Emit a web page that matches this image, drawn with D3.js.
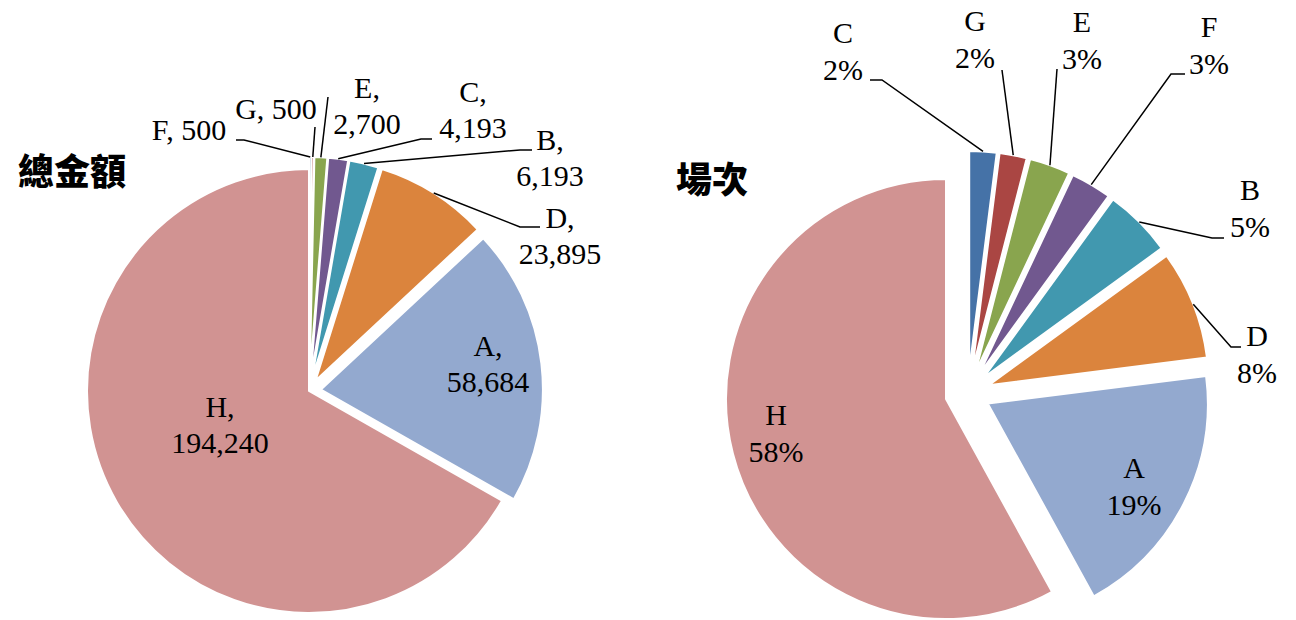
<!DOCTYPE html>
<html>
<head>
<meta charset="utf-8">
<script src="https://cdn.jsdelivr.net/npm/d3@7"></script>
<style>
  html, body { margin: 0; padding: 0; background: #fff; }
  svg { display: block; }
  .lbl { font-family: "Times New Roman", "Liberation Serif", "DejaVu Serif", serif; font-size: 30px; fill: #000; }
  .ttl { font-family: "Noto Sans CJK TC", "Noto Sans CJK SC", sans-serif; font-size: 36px; font-weight: 900; fill: #000; }
</style>
</head>
<body>
<svg id="chart" width="1296" height="620"></svg>
<script>
// data
var amountCats = ["F", "G", "E", "C", "B", "D", "A", "H"];
var amountValues = [500, 500, 2700, 4193, 6193, 23895, 58684, 194240];

var countCats = ["C", "G", "E", "F", "B", "D", "A", "H"];
var countPercents = [2, 2, 3, 3, 5, 8, 19, 58];

var titles = ["總金額", "場次"];

// slice colours go by position round the pie
var sliceColors = ["#4572A7", "#AA4643", "#89A54E", "#71588F", "#4198AF", "#DB843D", "#93A9CF", "#D19392"];

var svg = d3.select("#chart");
var fmt = d3.format(",");

// layout of the two pies
var leftPie = {
  cx: 309, cy: 391, r: 222,
  explode: [12, 12, 12, 12, 12, 12, 12, 0],
  title: { x: 18, y: 185 },
  lineGap: 36,
  labels: [
    { x: 189, y: 140, one: true, leader: [[236, 140], [244, 140]] },
    { x: 276, y: 119, one: true, leader: [[315, 127]] },
    { x: 367, y: 98, leader: [[328, 97]] },
    { x: 473, y: 102, leader: [[432, 139], [421, 139]] },
    { x: 550, y: 150, leader: [[532, 150], [520, 150]] },
    { x: 560, y: 228, leader: [[540, 227], [520, 227]] },
    { x: 488, y: 356 },
    { x: 220, y: 417 }
  ]
};

var rightPie = {
  cx: 967.8, cy: 393.4, r: 220,
  explode: [22.5, 22.5, 22.5, 22.5, 22.5, 22.5, 22.5, 22.5],
  title: { x: 676, y: 193 },
  lineGap: 37,
  labels: [
    { x: 843, y: 43, leader: [[870, 80], [882, 80]] },
    { x: 975, y: 31, leader: [[1002, 70]] },
    { x: 1082, y: 32, leader: [[1057, 69]] },
    { x: 1209, y: 37, leader: [[1185, 74], [1171, 74]] },
    { x: 1250, y: 200, leader: [[1224, 238], [1212, 238]] },
    { x: 1257, y: 346, leader: [[1241, 347], [1231, 347]] },
    { x: 1134, y: 478 },
    { x: 776, y: 425 }
  ]
};

var amountRows = amountCats.map(function(c, i) {
  return { cat: c, value: amountValues[i], text: [c + ",", fmt(amountValues[i])], one: c + ", " + fmt(amountValues[i]) };
});
var countRows = countCats.map(function(c, i) {
  return { cat: c, value: countPercents[i], text: [c, countPercents[i] + "%"] };
});

drawPie(amountRows, leftPie, titles[0]);
drawPie(countRows, rightPie, titles[1]);

function drawPie(rows, lay, title) {
  var pie = d3.pie().sort(null).value(function(d) { return d.value; });
  var arcs = pie(rows);
  var arc = d3.arc().innerRadius(0).outerRadius(lay.r);

  var g = svg.append("g");

  // slices
  g.selectAll("path")
    .data(arcs)
    .enter()
    .append("path")
    .attr("d", arc)
    .attr("transform", function(d, i) {
      var mid = (d.startAngle + d.endAngle) / 2;
      var dx = lay.cx + lay.explode[i] * Math.sin(mid);
      var dy = lay.cy - lay.explode[i] * Math.cos(mid);
      return "translate(" + dx + "," + dy + ")";
    })
    .attr("fill", function(d, i) { return sliceColors[i]; })
    .attr("stroke", "#fff")
    .attr("stroke-width", 2)
    .attr("stroke-linejoin", "round");

  // leader lines, from the label to the outer edge of the slice
  arcs.forEach(function(d, i) {
    var lb = lay.labels[i];
    if (!lb.leader) return;
    var mid = (d.startAngle + d.endAngle) / 2;
    var rr = lay.r + lay.explode[i];
    var end = [lay.cx + rr * Math.sin(mid), lay.cy - rr * Math.cos(mid)];
    var pts = lb.leader.concat([end]);
    g.append("path")
      .attr("d", d3.line()(pts))
      .attr("fill", "none")
      .attr("stroke", "#000")
      .attr("stroke-width", 1.5);
  });

  // labels
  arcs.forEach(function(d, i) {
    var lb = lay.labels[i];
    var lines = lb.one ? [d.data.one] : d.data.text;
    var t = g.append("text")
      .attr("class", "lbl")
      .attr("text-anchor", "middle");
    lines.forEach(function(s, k) {
      t.append("tspan")
        .attr("x", lb.x)
        .attr("y", lb.y + k * lay.lineGap)
        .text(s);
    });
  });

  g.append("text")
    .attr("class", "ttl")
    .attr("x", lay.title.x)
    .attr("y", lay.title.y)
    .text(title);
}
</script>
</body>
</html>
